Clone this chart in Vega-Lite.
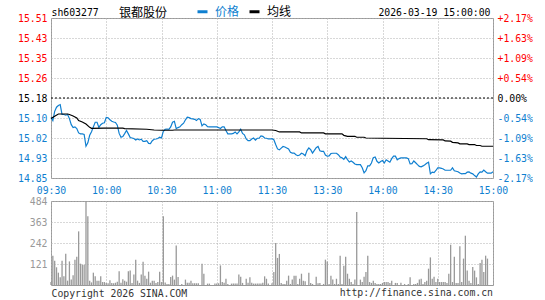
{
  "$schema": "https://vega.github.io/schema/vega-lite/v6.json",
  "padding": {"left": 17, "top": 5, "right": 0, "bottom": 0},
  "background": "white",
  "bounds": "flush",
  "spacing": 23,
  "config": {
    "font": "DejaVu Sans Mono",
    "view": {"stroke": "#999999", "strokeWidth": 1},
    "axis": {
      "labelFont": "DejaVu Sans Mono", "labelFontSize": 9.8, "ticks": false, "tickSize": 0, "domain": false,
      "gridColor": "#b0b0b0", "gridDash": [1, 2], "gridWidth": 1, "labelPadding": 4,
      "titleFont": "DejaVu Sans Mono", "titleFontSize": 9.8, "titleFontWeight": "normal", "titleColor": "#000000",
      "labelFlush": false, "labelOverlap": false, "labelBound": false
    },
    "legend": {"padding": 0}
  },
  "datasets": {
    "price": [
      {"minute":0,"price":15.100},{"minute":1,"price":15.087},{"minute":2,"price":15.125},{"minute":3,"price":15.142},{"minute":4,"price":15.149},{"minute":5,"price":15.153},{"minute":6,"price":15.112},{"minute":7,"price":15.112},{"minute":8,"price":15.109},{"minute":9,"price":15.112},
      {"minute":10,"price":15.095},{"minute":11,"price":15.070},{"minute":12,"price":15.058},{"minute":13,"price":15.061},{"minute":14,"price":15.054},{"minute":15,"price":15.036},{"minute":16,"price":15.032},{"minute":17,"price":15.032},{"minute":18,"price":15.030},{"minute":19,"price":14.981},
      {"minute":20,"price":14.995},{"minute":21,"price":15.026},{"minute":22,"price":15.041},{"minute":23,"price":15.061},{"minute":24,"price":15.080},{"minute":25,"price":15.080},{"minute":26,"price":15.059},{"minute":27,"price":15.070},{"minute":28,"price":15.076},{"minute":29,"price":15.078},
      {"minute":30,"price":15.100},{"minute":31,"price":15.098},{"minute":32,"price":15.090},{"minute":33,"price":15.084},{"minute":34,"price":15.081},{"minute":35,"price":15.079},{"minute":36,"price":15.068},{"minute":37,"price":15.034},{"minute":38,"price":15.018},{"minute":39,"price":15.021},
      {"minute":40,"price":15.033},{"minute":41,"price":15.046},{"minute":42,"price":15.032},{"minute":43,"price":15.017},{"minute":44,"price":15.015},{"minute":45,"price":15.013},{"minute":46,"price":15.007},{"minute":47,"price":15.011},{"minute":48,"price":15.007},{"minute":49,"price":15.010},
      {"minute":50,"price":15.001},{"minute":51,"price":15.001},{"minute":52,"price":15.004},{"minute":53,"price":14.993},{"minute":54,"price":14.992},{"minute":55,"price":15.004},{"minute":56,"price":15.010},{"minute":57,"price":15.011},{"minute":58,"price":15.013},{"minute":59,"price":15.018},
      {"minute":60,"price":15.015},{"minute":61,"price":15.043},{"minute":62,"price":15.051},{"minute":63,"price":15.052},{"minute":64,"price":15.051},{"minute":65,"price":15.061},{"minute":66,"price":15.080},{"minute":67,"price":15.084},{"minute":68,"price":15.054},{"minute":69,"price":15.058},
      {"minute":70,"price":15.061},{"minute":71,"price":15.070},{"minute":72,"price":15.076},{"minute":73,"price":15.090},{"minute":74,"price":15.101},{"minute":75,"price":15.099},{"minute":76,"price":15.095},{"minute":77,"price":15.094},{"minute":78,"price":15.092},{"minute":79,"price":15.087},
      {"minute":80,"price":15.095},{"minute":81,"price":15.092},{"minute":82,"price":15.065},{"minute":83,"price":15.073},{"minute":84,"price":15.070},{"minute":85,"price":15.062},{"minute":86,"price":15.061},{"minute":87,"price":15.061},{"minute":88,"price":15.061},{"minute":89,"price":15.061},
      {"minute":90,"price":15.061},{"minute":91,"price":15.058},{"minute":92,"price":15.054},{"minute":93,"price":15.061},{"minute":94,"price":15.061},{"minute":95,"price":15.046},{"minute":96,"price":15.032},{"minute":97,"price":15.032},{"minute":98,"price":15.032},{"minute":99,"price":15.034},
      {"minute":100,"price":15.040},{"minute":101,"price":15.032},{"minute":102,"price":15.040},{"minute":103,"price":15.051},{"minute":104,"price":15.034},{"minute":105,"price":15.028},{"minute":106,"price":15.011},{"minute":107,"price":15.004},{"minute":108,"price":15.004},{"minute":109,"price":15.011},
      {"minute":110,"price":15.015},{"minute":111,"price":15.006},{"minute":112,"price":15.014},{"minute":113,"price":15.014},{"minute":114,"price":15.024},{"minute":115,"price":15.022},{"minute":116,"price":15.015},{"minute":117,"price":15.014},{"minute":118,"price":15.011},{"minute":119,"price":15.011},
      {"minute":120,"price":15.012},{"minute":121,"price":15.008},{"minute":122,"price":14.988},{"minute":123,"price":14.970},{"minute":124,"price":14.966},{"minute":125,"price":14.973},{"minute":126,"price":14.980},{"minute":127,"price":14.978},{"minute":128,"price":14.974},{"minute":129,"price":14.970},
      {"minute":130,"price":14.956},{"minute":131,"price":14.953},{"minute":132,"price":14.953},{"minute":133,"price":14.946},{"minute":134,"price":14.942},{"minute":135,"price":14.945},{"minute":136,"price":14.952},{"minute":137,"price":14.949},{"minute":138,"price":14.942},{"minute":139,"price":14.963},
      {"minute":140,"price":14.974},{"minute":141,"price":14.967},{"minute":142,"price":14.953},{"minute":143,"price":14.964},{"minute":144,"price":14.975},{"minute":145,"price":14.980},{"minute":146,"price":14.962},{"minute":147,"price":14.960},{"minute":148,"price":14.960},{"minute":149,"price":14.945},
      {"minute":150,"price":14.940},{"minute":151,"price":14.941},{"minute":152,"price":14.951},{"minute":153,"price":14.952},{"minute":154,"price":14.952},{"minute":155,"price":14.952},{"minute":156,"price":14.946},{"minute":157,"price":14.937},{"minute":158,"price":14.933},{"minute":159,"price":14.927},
      {"minute":160,"price":14.938},{"minute":161,"price":14.926},{"minute":162,"price":14.916},{"minute":163,"price":14.920},{"minute":164,"price":14.915},{"minute":165,"price":14.908},{"minute":166,"price":14.905},{"minute":167,"price":14.905},{"minute":168,"price":14.905},{"minute":169,"price":14.892},
      {"minute":170,"price":14.871},{"minute":171,"price":14.880},{"minute":172,"price":14.900},{"minute":173,"price":14.900},{"minute":174,"price":14.912},{"minute":175,"price":14.934},{"minute":176,"price":14.937},{"minute":177,"price":14.919},{"minute":178,"price":14.912},{"minute":179,"price":14.918},
      {"minute":180,"price":14.922},{"minute":181,"price":14.912},{"minute":182,"price":14.925},{"minute":183,"price":14.920},{"minute":184,"price":14.915},{"minute":185,"price":14.930},{"minute":186,"price":14.940},{"minute":187,"price":14.940},{"minute":188,"price":14.925},{"minute":189,"price":14.930},
      {"minute":190,"price":14.933},{"minute":191,"price":14.933},{"minute":192,"price":14.933},{"minute":193,"price":14.933},{"minute":194,"price":14.930},{"minute":195,"price":14.908},{"minute":196,"price":14.909},{"minute":197,"price":14.920},{"minute":198,"price":14.913},{"minute":199,"price":14.905},
      {"minute":200,"price":14.898},{"minute":201,"price":14.896},{"minute":202,"price":14.900},{"minute":203,"price":14.905},{"minute":204,"price":14.911},{"minute":205,"price":14.915},{"minute":206,"price":14.867},{"minute":207,"price":14.874},{"minute":208,"price":14.872},{"minute":209,"price":14.881},
      {"minute":210,"price":14.892},{"minute":211,"price":14.892},{"minute":212,"price":14.890},{"minute":213,"price":14.887},{"minute":214,"price":14.882},{"minute":215,"price":14.882},{"minute":216,"price":14.882},{"minute":217,"price":14.882},{"minute":218,"price":14.892},{"minute":219,"price":14.880},
      {"minute":220,"price":14.878},{"minute":221,"price":14.876},{"minute":222,"price":14.871},{"minute":223,"price":14.867},{"minute":224,"price":14.868},{"minute":225,"price":14.868},{"minute":226,"price":14.874},{"minute":227,"price":14.875},{"minute":228,"price":14.870},{"minute":229,"price":14.867},
      {"minute":230,"price":14.860},{"minute":231,"price":14.854},{"minute":232,"price":14.867},{"minute":233,"price":14.875},{"minute":234,"price":14.874},{"minute":235,"price":14.883},{"minute":236,"price":14.876},{"minute":237,"price":14.870},{"minute":238,"price":14.870},{"minute":239,"price":14.870},
      {"minute":240,"price":14.876}
    ],
    "avg": [
      {"minute":0,"avg":15.095},{"minute":2,"avg":15.105},{"minute":4,"avg":15.114},{"minute":9,"avg":15.114},{"minute":10,"avg":15.112},{"minute":12,"avg":15.106},{"minute":14,"avg":15.098},{"minute":15,"avg":15.087},{"minute":17,"avg":15.081},{"minute":19,"avg":15.073},
      {"minute":21,"avg":15.059},{"minute":22,"avg":15.055},{"minute":29,"avg":15.056},{"minute":39,"avg":15.056},{"minute":40,"avg":15.054},{"minute":52,"avg":15.051},{"minute":56,"avg":15.048},{"minute":60,"avg":15.047},{"minute":66,"avg":15.047},{"minute":67,"avg":15.048},
      {"minute":120,"avg":15.048},{"minute":122,"avg":15.046},{"minute":124,"avg":15.040},{"minute":135,"avg":15.040},{"minute":136,"avg":15.036},{"minute":148,"avg":15.036},{"minute":149,"avg":15.032},{"minute":158,"avg":15.032},{"minute":159,"avg":15.026},{"minute":161,"avg":15.022},
      {"minute":165,"avg":15.022},{"minute":166,"avg":15.018},{"minute":170,"avg":15.018},{"minute":171,"avg":15.015},{"minute":180,"avg":15.014},{"minute":204,"avg":15.012},{"minute":205,"avg":15.008},{"minute":213,"avg":15.007},{"minute":214,"avg":15.003},{"minute":217,"avg":15.002},
      {"minute":218,"avg":14.997},{"minute":221,"avg":14.995},{"minute":222,"avg":14.991},{"minute":226,"avg":14.991},{"minute":227,"avg":14.988},{"minute":230,"avg":14.988},{"minute":231,"avg":14.984},{"minute":233,"avg":14.984},{"minute":234,"avg":14.981},{"minute":240,"avg":14.981}
    ],
    "volume": [
      {"minute":0,"vol":17},{"minute":1,"vol":169},{"minute":2,"vol":140},{"minute":3,"vol":102},{"minute":4,"vol":71},{"minute":5,"vol":44},{"minute":6,"vol":140},{"minute":7,"vol":50},{"minute":8,"vol":180},{"minute":9,"vol":25},
      {"minute":10,"vol":136},{"minute":11,"vol":31},{"minute":12,"vol":56},{"minute":13,"vol":146},{"minute":14,"vol":163},{"minute":15,"vol":309},{"minute":16,"vol":123},{"minute":17,"vol":117},{"minute":18,"vol":117},{"minute":19,"vol":484},
      {"minute":20,"vol":396},{"minute":21,"vol":25},{"minute":22,"vol":15},{"minute":23,"vol":71},{"minute":24,"vol":50},{"minute":25,"vol":25},{"minute":26,"vol":25},{"minute":27,"vol":50},{"minute":28,"vol":17},{"minute":29,"vol":17},
      {"minute":30,"vol":12},{"minute":31,"vol":10},{"minute":32,"vol":27},{"minute":33,"vol":12},{"minute":34,"vol":10},{"minute":35,"vol":13},{"minute":36,"vol":19},{"minute":37,"vol":79},{"minute":38,"vol":13},{"minute":39,"vol":33},
      {"minute":40,"vol":25},{"minute":41,"vol":19},{"minute":42,"vol":79},{"minute":43,"vol":83},{"minute":44,"vol":12},{"minute":45,"vol":60},{"minute":46,"vol":146},{"minute":47,"vol":25},{"minute":48,"vol":12},{"minute":49,"vol":60},
      {"minute":50,"vol":134},{"minute":51,"vol":54},{"minute":52,"vol":36},{"minute":53,"vol":77},{"minute":54,"vol":13},{"minute":55,"vol":25},{"minute":56,"vol":25},{"minute":57,"vol":12},{"minute":58,"vol":17},{"minute":59,"vol":77},
      {"minute":60,"vol":17},{"minute":61,"vol":396},{"minute":62,"vol":15},{"minute":63,"vol":6},{"minute":64,"vol":6},{"minute":65,"vol":46},{"minute":66,"vol":54},{"minute":67,"vol":31},{"minute":68,"vol":228},{"minute":69,"vol":46},
      {"minute":71,"vol":6},{"minute":73,"vol":31},{"minute":74,"vol":13},{"minute":75,"vol":13},{"minute":76,"vol":25},{"minute":77,"vol":10},{"minute":78,"vol":10},{"minute":79,"vol":10},{"minute":80,"vol":10},
      {"minute":82,"vol":123},{"minute":83,"vol":65},{"minute":85,"vol":8},{"minute":86,"vol":8},{"minute":89,"vol":8},{"minute":90,"vol":8},{"minute":91,"vol":10},{"minute":92,"vol":113},{"minute":93,"vol":17},{"minute":94,"vol":13},
      {"minute":95,"vol":36},{"minute":96,"vol":6},{"minute":98,"vol":8},{"minute":99,"vol":8},{"minute":100,"vol":8},{"minute":101,"vol":8},{"minute":102,"vol":60},{"minute":103,"vol":48},{"minute":104,"vol":12},{"minute":106,"vol":36},
      {"minute":107,"vol":13},{"minute":108,"vol":44},{"minute":109,"vol":13},{"minute":110,"vol":8},{"minute":111,"vol":8},{"minute":112,"vol":8},{"minute":113,"vol":8},{"minute":114,"vol":8},{"minute":115,"vol":13},{"minute":116,"vol":50},
      {"minute":117,"vol":36},{"minute":118,"vol":8},{"minute":120,"vol":10},{"minute":121,"vol":75},{"minute":122,"vol":242},{"minute":123,"vol":156},{"minute":124,"vol":179},{"minute":125,"vol":12},{"minute":126,"vol":6},{"minute":127,"vol":6},
      {"minute":128,"vol":25},{"minute":129,"vol":54},{"minute":130,"vol":6},{"minute":131,"vol":31},{"minute":132,"vol":54},{"minute":133,"vol":54},{"minute":134,"vol":6},{"minute":135,"vol":36},{"minute":136,"vol":65},{"minute":137,"vol":25},
      {"minute":138,"vol":21},{"minute":140,"vol":71},{"minute":141,"vol":12},{"minute":142,"vol":6},{"minute":144,"vol":48},{"minute":145,"vol":10},{"minute":146,"vol":12},{"minute":148,"vol":6},{"minute":149,"vol":146},{"minute":150,"vol":136},
      {"minute":151,"vol":6},{"minute":152,"vol":54},{"minute":153,"vol":31},{"minute":154,"vol":6},{"minute":155,"vol":36},{"minute":156,"vol":6},{"minute":157,"vol":169},{"minute":158,"vol":6},{"minute":159,"vol":111},{"minute":160,"vol":163},
      {"minute":161,"vol":65},{"minute":162,"vol":36},{"minute":163,"vol":17},{"minute":164,"vol":6},{"minute":165,"vol":31},{"minute":166,"vol":420},{"minute":168,"vol":31},{"minute":169,"vol":17},{"minute":170,"vol":48},{"minute":171,"vol":75},
      {"minute":172,"vol":169},{"minute":173,"vol":17},{"minute":174,"vol":12},{"minute":175,"vol":25},{"minute":176,"vol":12},{"minute":177,"vol":6},{"minute":178,"vol":6},{"minute":179,"vol":6},{"minute":180,"vol":12},{"minute":181,"vol":17},
      {"minute":182,"vol":17},{"minute":183,"vol":17},{"minute":184,"vol":12},{"minute":185,"vol":25},{"minute":187,"vol":12},{"minute":188,"vol":12},{"minute":190,"vol":13},{"minute":192,"vol":6},{"minute":194,"vol":6},{"minute":195,"vol":44},
      {"minute":197,"vol":6},{"minute":198,"vol":6},{"minute":199,"vol":12},{"minute":200,"vol":31},{"minute":201,"vol":36},{"minute":202,"vol":6},{"minute":203,"vol":17},{"minute":204,"vol":25},{"minute":205,"vol":94},{"minute":206,"vol":159},
      {"minute":207,"vol":36},{"minute":208,"vol":48},{"minute":209,"vol":17},{"minute":210,"vol":36},{"minute":211,"vol":17},{"minute":212,"vol":17},{"minute":213,"vol":17},{"minute":214,"vol":17},{"minute":215,"vol":12},{"minute":216,"vol":65},
      {"minute":217,"vol":232},{"minute":218,"vol":17},{"minute":219,"vol":163},{"minute":220,"vol":12},{"minute":221,"vol":12},{"minute":222,"vol":223},{"minute":223,"vol":17},{"minute":224,"vol":152},{"minute":225,"vol":284},{"minute":226,"vol":83},
      {"minute":227,"vol":25},{"minute":228,"vol":12},{"minute":229,"vol":104},{"minute":230,"vol":83},{"minute":231,"vol":44},{"minute":232,"vol":6},{"minute":233,"vol":127},{"minute":234,"vol":146},{"minute":235,"vol":75},{"minute":236,"vol":169},
      {"minute":237,"vol":152}
    ]
  },
  "vconcat": [
    {
      "width": 442,
      "height": 160,
      "title": {"text": "银都股份", "anchor": "start", "frame": "group", "dx": 68, "offset": -13, "font": "Noto Sans CJK SC", "fontSize": 12, "fontWeight": "normal", "color": "#000000"},
      "layer": [
        {
          "data": {"name": "price"},
          "mark": {"type": "line", "strokeWidth": 1.2},
          "encoding": {
            "x": {
              "field": "minute", "type": "quantitative",
              "scale": {"domain": [0, 240], "nice": false, "zero": false},
              "axis": {
                "values": [0, 30, 60, 90, 120, 150, 180, 210, 240],
                "labelExpr": "['09:30','10:00','10:30','11:00','11:30','13:30','14:00','14:30','15:00'][round(datum.value/30)]",
                "labelColor": "#0f7fd0", "labelPadding": 7, "grid": true, "title": null
              }
            },
            "y": {
              "field": "price", "type": "quantitative",
              "scale": {"domain": [14.85, 15.51], "nice": false, "zero": false},
              "axis": {
                "values": [14.85, 14.9325, 15.015, 15.0975, 15.18, 15.2625, 15.345, 15.4275, 15.51],
                "labelExpr": "format(datum.value + 0.0001, '.2f')",
                "labelColor": {"condition": [{"test": "datum.value > 15.19", "value": "#ff0000"}, {"test": "datum.value < 15.17", "value": "#0f7fd0"}], "value": "#000000"},
                "grid": true,
                "title": "sh603277", "titleAngle": 0, "titleAlign": "left", "titleBaseline": "middle", "titleX": 0, "titleY": -6
              }
            },
            "color": {
              "datum": "价格", "type": "nominal",
              "scale": {"domain": ["价格", "均线"], "range": ["#0f7fd0", "#000000"]},
              "legend": {
                "orient": "none", "legendX": 145, "legendY": -13, "direction": "horizontal", "title": null,
                "symbolType": "stroke", "symbolSize": 100, "symbolStrokeWidth": 3,
                "labelFont": "Noto Sans CJK SC", "labelFontSize": 12, "labelOffset": 6, "columnPadding": 3,
                "labelColor": {"expr": "datum.label == '价格' ? '#0f7fd0' : '#000000'"}
              }
            }
          }
        },
        {
          "data": {"name": "avg"},
          "mark": {"type": "line", "strokeWidth": 1.2},
          "encoding": {
            "x": {"field": "minute", "type": "quantitative"},
            "y": {"field": "avg", "type": "quantitative", "scale": {"domain": [14.85, 15.51], "nice": false, "zero": false}, "axis": null},
            "color": {"datum": "均线", "type": "nominal"}
          }
        },
        {
          "data": {"values": [{}]},
          "mark": {"type": "rule", "strokeDash": [2, 2], "color": "#000000", "strokeWidth": 1},
          "encoding": {
            "y": {
              "datum": 0, "type": "quantitative",
              "scale": {"domain": [-2.174, 2.174], "nice": false, "zero": false},
              "axis": {
                "orient": "right",
                "values": [-2.174, -1.6305, -1.087, -0.5435, 0, 0.5435, 1.087, 1.6305, 2.174],
                "labelExpr": "(datum.value > 0.001 ? '+' : (datum.value < -0.001 ? '-' : '')) + format(abs(datum.value), '.2f') + '%'",
                "labelColor": {"condition": [{"test": "datum.value > 0.01", "value": "#ff0000"}, {"test": "datum.value < -0.01", "value": "#0f7fd0"}], "value": "#000000"},
                "grid": false,
                "title": "2026-03-19 15:00:00", "titleAngle": 0, "titleAlign": "right", "titleBaseline": "middle", "titleX": -3, "titleY": -6
              }
            }
          }
        }
      ],
      "resolve": {"scale": {"y": "independent"}, "axis": {"y": "independent"}}
    },
    {
      "width": 442,
      "height": 84,
      "data": {"name": "volume"},
      "title": {"text": "http://finance.sina.com.cn", "orient": "bottom", "anchor": "end", "frame": "group", "offset": -10, "font": "DejaVu Sans Mono", "fontSize": 9.8, "fontWeight": "normal", "color": "#333333"},
      "mark": {"type": "rule", "color": "#999999", "strokeWidth": 1.3},
      "encoding": {
        "x": {
          "field": "minute", "type": "quantitative",
          "scale": {"domain": [0, 240], "nice": false, "zero": false},
          "axis": {
            "values": [0, 30, 60, 90, 120, 150, 180, 210, 240], "labels": false, "grid": true,
            "title": "Copyright 2026 SINA.COM", "titleAlign": "left", "titleBaseline": "middle", "titleX": 0, "titleY": 8, "titleColor": "#333333"
          }
        },
        "y": {
          "field": "vol", "type": "quantitative",
          "scale": {"domain": [0, 484], "nice": false},
          "axis": {"values": [121, 242, 363, 484], "labelColor": "#999999", "grid": true, "title": null}
        },
        "y2": {"datum": 0}
      }
    }
  ]
}
